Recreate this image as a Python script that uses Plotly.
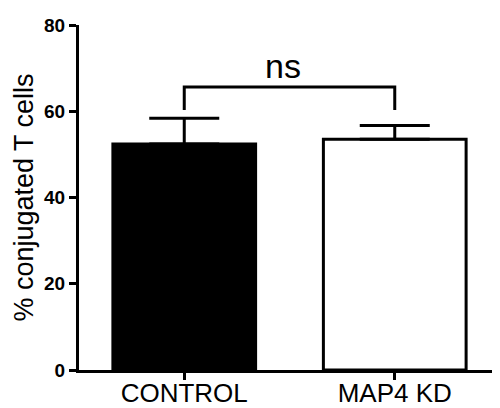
import plotly.graph_objects as go

categories = ["CONTROL", "MAP4 KD"]
means = [52.4, 53.5]
sem_upper = [6.0, 3.2]
bar_fills = ["black", "white"]
y_ticks = [0, 20, 40, 60, 80]
bracket_low = 60.3
bracket_high = 65.6
sig_label = "ns"

FONT = "Arial, Liberation Sans, sans-serif"

fig = go.Figure()
fig.add_trace(go.Bar(
    x=categories, y=means,
    marker=dict(color=bar_fills, line=dict(color="black", width=3)),
    width=0.678,
    error_y=dict(type="data", symmetric=False, array=sem_upper,
                 arrayminus=[0, 0], color="black", thickness=3, width=35),
    showlegend=False,
))
fig.add_trace(go.Scatter(
    x=[categories[0], categories[0], categories[1], categories[1]],
    y=[bracket_low, bracket_high, bracket_high, bracket_low],
    mode="lines", line=dict(color="black", width=3),
    showlegend=False, hoverinfo="skip",
))
fig.add_annotation(x=0.47, y=70.5, text=sig_label, showarrow=False,
                   xref="x", yref="y", yanchor="middle",
                   font=dict(family=FONT, size=34, color="black"))

# page body has an 8px default margin, so the figure is shrunk by 8px
fig.update_layout(
    width=492, height=400,
    margin=dict(l=71, r=0, t=17, b=38),
    plot_bgcolor="white", paper_bgcolor="white",
    font=dict(family=FONT, color="black"),
)
fig.update_xaxes(
    range=[-0.5, 1.5], showline=True, linecolor="black", linewidth=3,
    ticks="outside", ticklen=7, tickwidth=3, tickcolor="black",
    ticklabelstandoff=-9,
    tickfont=dict(family=FONT, size=26, color="black"),
    showgrid=False, zeroline=False, automargin=False,
)
fig.update_yaxes(
    range=[0, 80], tickvals=y_ticks,
    ticktext=[f"<b>{v}</b>" for v in y_ticks],
    showline=True, linecolor="black", linewidth=3,
    ticks="outside", ticklen=7, tickwidth=3, tickcolor="black",
    tickfont=dict(family=FONT, size=19, color="black"),
    title=dict(text="% conjugated T cells", standoff=3,
               font=dict(family=FONT, size=27, color="black")),
    showgrid=False, zeroline=False, automargin=False,
)

fig.write_html("out.html")
